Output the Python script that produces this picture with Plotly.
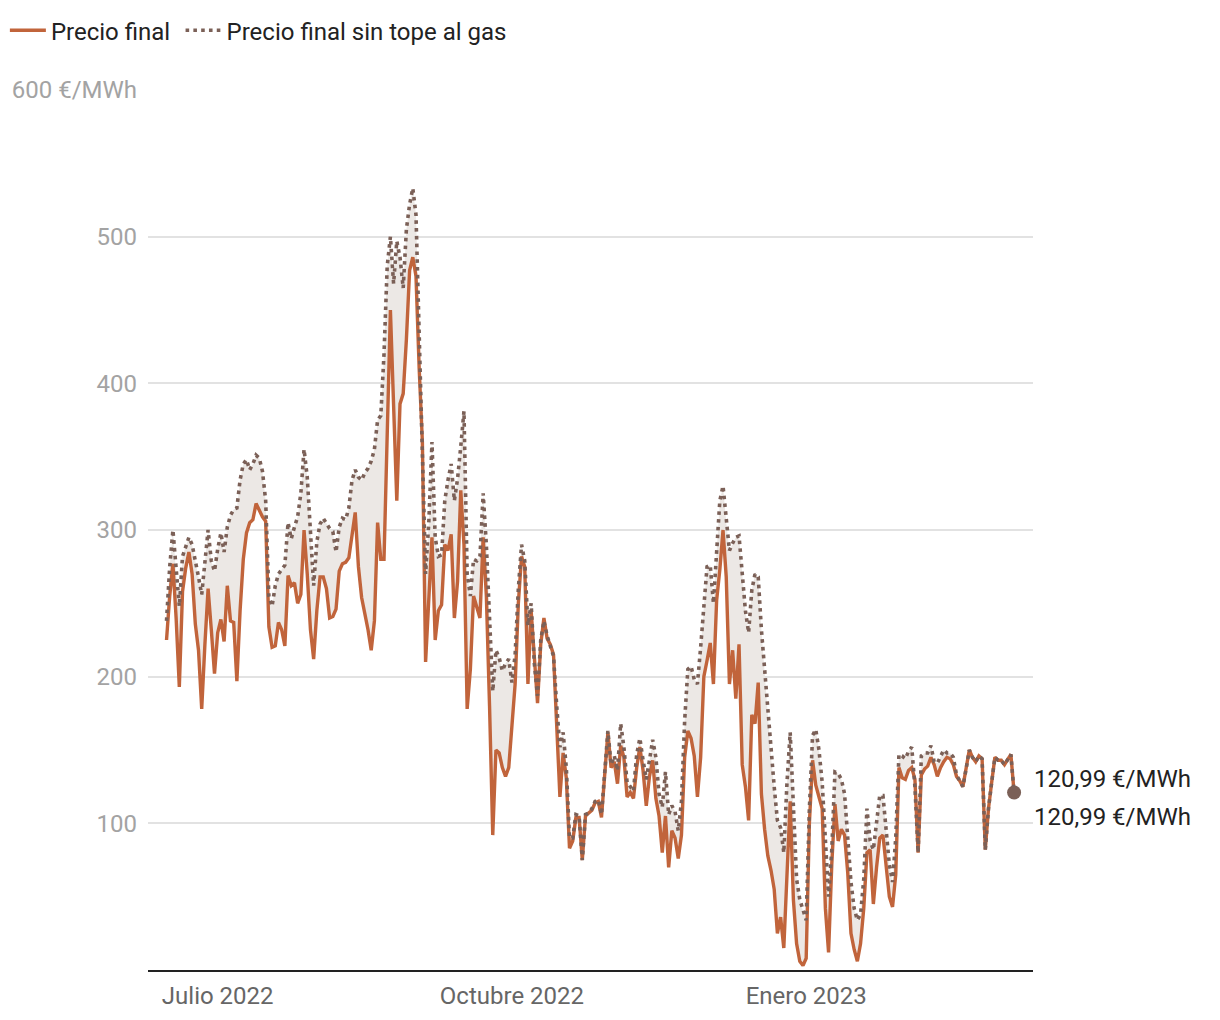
import pandas as pd
import plotly.graph_objects as go

# ---------------- data ----------------
start_date = "2022-06-15"
n_days = 266

precio_final = [
    225, 255, 277, 240, 193, 258, 274, 285, 270, 236,
    218, 178, 222, 260, 232, 202, 230, 239, 224, 262,
    238, 237, 197, 245, 280, 298, 305, 307, 318, 313,
    309, 306, 234, 220, 221, 237, 232, 221, 269, 262,
    264, 250, 256, 300, 270, 232, 212, 245, 268, 268,
    260, 240, 241, 246, 272, 277, 278, 281, 296, 312,
    275, 254, 243, 232, 218, 238, 305, 280, 280, 362,
    450, 385, 320, 386, 393, 430, 477, 486, 473, 410,
    360, 210, 250, 295, 225, 245, 249, 290, 286, 297,
    240, 265, 327, 290, 178, 205, 255, 248, 240, 295,
    255, 180, 92, 150, 148, 138, 132, 138, 168, 195,
    250, 282, 275, 195, 245, 215, 182, 222, 240, 226,
    222, 215, 170, 118, 148, 131, 83, 88, 104, 104,
    75, 105, 107, 109, 114, 115, 104, 132, 162, 138,
    142, 127, 153, 145, 118, 121, 117, 138, 152, 136,
    112, 132, 143, 117, 105, 80, 105, 70, 95, 90,
    76, 92, 145, 163, 158, 146, 118, 145, 200, 211,
    223, 195, 252, 273, 300, 268, 195, 218, 185, 222,
    140, 125, 102, 174, 168, 196, 120, 96, 78, 68,
    55, 25, 36, 15, 70, 115, 48, 18, 6, 3,
    8, 100, 143, 126, 118, 110, 42, 12, 72, 113,
    88, 96, 92, 66, 25, 14, 6, 18, 42, 80,
    82, 45, 70, 90, 92, 70, 50, 43, 65, 138,
    131, 130, 136, 138, 130, 80, 133, 137, 139, 145,
    140, 132, 138, 142, 145, 144, 140, 132, 129, 125,
    137, 150, 145, 142, 146, 144, 82, 110, 128, 145,
    143, 143, 140, 144, 147, 120.99,
]

precio_sin_tope = [
    238, 275, 300, 270, 248, 282, 289, 295, 290, 280,
    268, 256, 278, 300, 279, 272, 287, 298, 285, 302,
    310, 314, 315, 334, 345, 348, 341, 345, 351, 349,
    340, 320, 255, 248, 262, 270, 273, 276, 305, 294,
    302, 309, 325, 355, 336, 300, 262, 292, 304, 308,
    304, 301, 299, 285, 302, 308, 307, 315, 334, 341,
    336, 334, 339, 342, 347, 355, 375, 378, 420, 480,
    500, 468, 497, 486, 465, 505, 522, 533, 515, 440,
    350, 270, 305, 360, 295, 282, 283, 320, 334, 345,
    320, 335, 357, 381, 270, 255, 280, 279, 282, 325,
    290, 240, 190, 218, 213, 204, 209, 212, 196, 215,
    260, 290, 279, 235, 250, 209, 187, 225, 238, 228,
    220, 214, 180, 152, 162, 138, 90, 90, 106, 105,
    75, 106, 107, 110, 115, 116, 106, 134, 163, 140,
    146, 136, 168, 152, 128, 125, 122, 147, 158, 143,
    130, 143, 157, 145, 120, 111, 135, 106, 112, 108,
    95, 115, 170, 205, 207, 198, 195, 220, 250, 275,
    276, 250, 285, 320, 330, 305, 286, 291, 295, 296,
    270, 245, 230, 259, 270, 268, 232, 205, 178, 145,
    125, 102, 97, 80, 128, 162, 110, 62, 48, 40,
    34, 110, 160, 164, 150, 128, 85, 50, 82, 135,
    134, 130, 120, 92, 60, 42, 34, 38, 62, 110,
    88, 82, 100, 119, 119, 95, 72, 60, 90, 147,
    146, 144, 149, 152, 125, 80, 146, 148, 148, 153,
    142, 141, 145, 150, 148, 148, 145, 133, 129, 125,
    137, 150, 145, 142, 146, 144, 82, 110, 128, 145,
    143, 143, 140, 144, 147, 120.99,
]

x_tick_dates = ["2022-07-01", "2022-10-01", "2023-01-01"]
x_tick_labels = ["Julio 2022", "Octubre 2022", "Enero 2023"]
y_tick_values = [100, 200, 300, 400, 500, 600]
y_tick_labels = ["100", "200", "300", "400", "500", "600 €/MWh"]
last_label_final = "120,99 €/MWh"
last_label_sin_tope = "120,99 €/MWh"

series_names = ["Precio final", "Precio final sin tope al gas"]

# ---------------- styles ----------------
C_FINAL = "#c1643b"
C_SIN = "#7b6057"
C_FILL = "#ece8e5"
FONT = "Roboto"

dates = pd.date_range(start_date, periods=n_days, freq="D")

fig = go.Figure()

# fill between the two series
fig.add_trace(go.Scatter(
    x=dates, y=precio_sin_tope, mode="lines",
    line=dict(width=0, color="rgba(0,0,0,0)"),
    showlegend=False, hoverinfo="skip"))
fig.add_trace(go.Scatter(
    x=dates, y=precio_final, mode="lines",
    line=dict(width=0, color="rgba(0,0,0,0)"),
    fill="tonexty", fillcolor=C_FILL,
    showlegend=False, hoverinfo="skip"))

fig.add_trace(go.Scatter(
    x=dates, y=precio_final, mode="lines", name=series_names[0],
    legend="legend",
    line=dict(color=C_FINAL, width=3.4)))
fig.add_trace(go.Scatter(
    x=dates, y=precio_sin_tope, mode="lines", name=series_names[1],
    legend="legend2",
    line=dict(color=C_SIN, width=3.6, dash="3.6px,4.2px")))

fig.add_trace(go.Scatter(
    x=[dates[-1]], y=[precio_sin_tope[-1]], mode="markers",
    marker=dict(size=14, color=C_SIN), showlegend=False, hoverinfo="skip"))

fig.add_annotation(x=dates[-1], y=precio_final[-1], xref="x", yref="y",
                   text=last_label_final, showarrow=False,
                   xanchor="left", yanchor="middle", xshift=18, yshift=14,
                   font=dict(family=FONT, size=24, color="#222222"))
fig.add_annotation(x=dates[-1], y=precio_sin_tope[-1], xref="x", yref="y",
                   text=last_label_sin_tope, showarrow=False,
                   xanchor="left", yanchor="middle", xshift=18, yshift=-24,
                   font=dict(family=FONT, size=24, color="#222222"))

legend_common = dict(orientation="h", xref="container", yref="container",
                     y=0.992, xanchor="left", yanchor="top",
                     font=dict(family=FONT, size=24, color="#222222"),
                     itemwidth=36, bgcolor="rgba(0,0,0,0)")

fig.update_layout(
    width=1220, height=1020,
    margin=dict(l=148, r=187, t=90, b=50, autoexpand=False),
    paper_bgcolor="white", plot_bgcolor="white",
    font=dict(family=FONT),
    hovermode=False,
    legend=dict(x=0.004, **legend_common),
    legend2=dict(x=0.148, **legend_common),
    xaxis=dict(
        range=[pd.Timestamp("2022-06-09 05:00"), pd.Timestamp("2023-03-12 22:00")],
        tickvals=x_tick_dates, ticktext=x_tick_labels,
        showgrid=False, zeroline=False, automargin=False,
        showline=True, linecolor="#222222", linewidth=2,
        ticks="", ticklabelstandoff=3,
        tickfont=dict(family=FONT, size=24, color="#666666"),
    ),
    yaxis=dict(
        range=[0, 600],
        tickvals=y_tick_values, ticktext=y_tick_labels,
        showgrid=True, gridcolor="#e2e2e2", gridwidth=1.5,
        zeroline=False, showline=False, ticks="", automargin=False,
        ticklabelstandoff=10,
        tickfont=dict(family=FONT, size=24, color="#a3a3a3"),
    ),
)

fig.write_html("out.html")
